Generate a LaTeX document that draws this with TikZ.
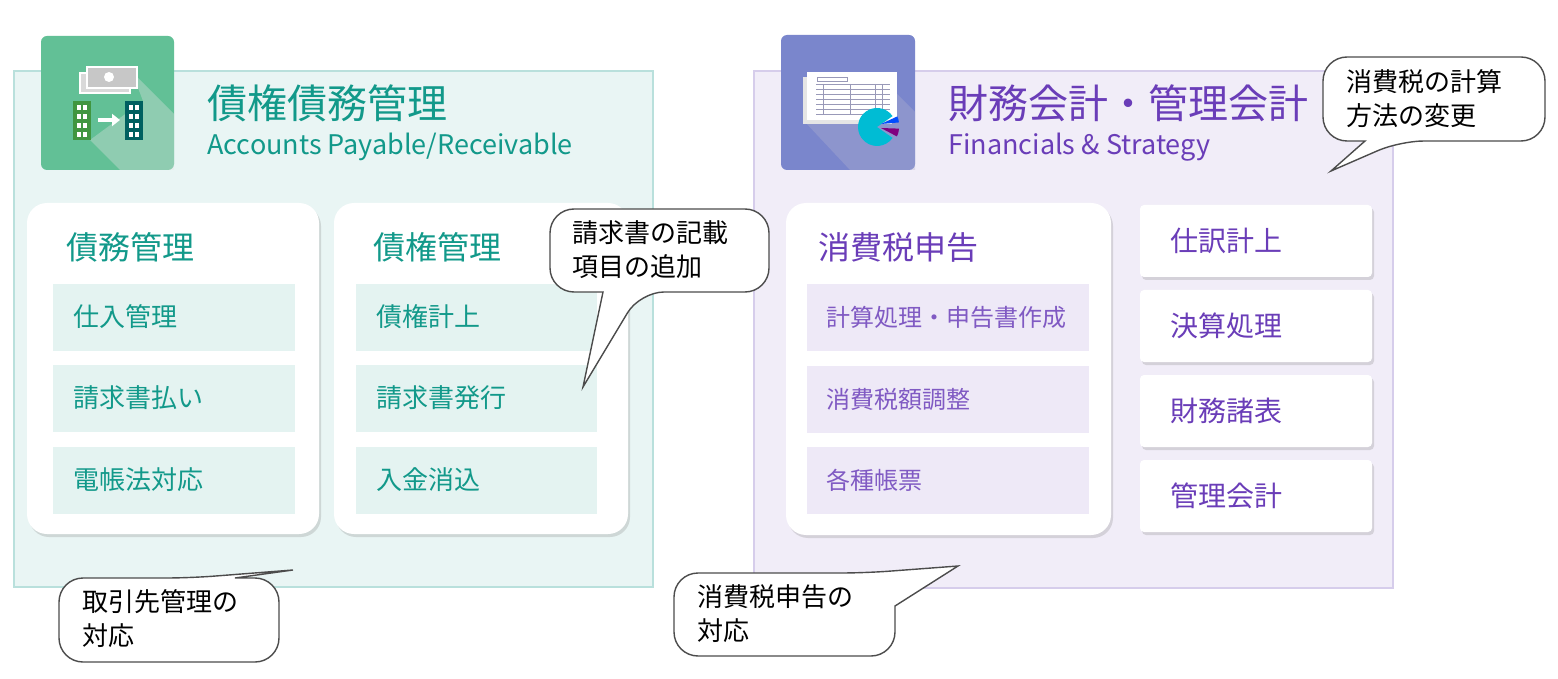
\documentclass[tikz,border=0pt]{standalone}
\usepackage{fontspec}
\setmainfont{Noto Sans CJK JP}
\usetikzlibrary{shadows,arrows.meta}
\definecolor{tealbg}{HTML}{E9F5F4}
\definecolor{tealbd}{HTML}{B9E0DC}
\definecolor{tealtx}{HTML}{12998A}
\definecolor{tealit}{HTML}{E4F3F1}
\definecolor{purbg}{HTML}{F1EDF8}
\definecolor{purbd}{HTML}{D6CDEB}
\definecolor{purtx}{HTML}{6A3DB8}
\definecolor{purit}{HTML}{EEE9F7}
\definecolor{gicon}{HTML}{62C096}
\definecolor{picon}{HTML}{7A86CC}
\definecolor{piec}{HTML}{00BCD4}
\tikzset{
 px/.style={x=0.5pt,y=-0.5pt},
 card/.style={fill=white,rounded corners=10pt,drop shadow={opacity=0.25,shadow xshift=1pt,shadow yshift=-1.5pt}},
 sbox/.style={fill=white,rounded corners=2pt,drop shadow={opacity=0.25,shadow xshift=1pt,shadow yshift=-1.5pt}},
 txt/.style={anchor=west,inner sep=0pt},
 call/.style={draw=black!70,fill=white,line width=0.7pt},
}
\begin{document}
\begin{tikzpicture}[px]
\useasboundingbox (0,0) rectangle (1558,679);
\fill[white] (0,0) rectangle (1558,679);
% left panel
\draw[fill=tealbg,draw=tealbd,line width=0.8pt] (14,71) rectangle (653,587);
\fill[gicon,rounded corners=3pt] (41,36) rectangle (174,170);
\fill[black!10,opacity=0.35] (132,72) -- (174,114) -- (174,170) -- (120,170) -- (90,140) -- (143,101) -- cycle;
\draw[fill=black!15,draw=white,line width=0.6pt] (80,73) rectangle (130,93);
\draw[fill=black!22,draw=white,line width=0.6pt] (87,67) rectangle (137,88);
\fill[white] (109,77) circle (5);
\fill[green!45!black!75] (73,101) rectangle (91,140);
\fill[teal!75!black] (125,101) rectangle (143,140);
\foreach \bx in {73,125}{\foreach \r in {0,1,2,3}{\fill[white] (\bx+4,105+\r*9) rectangle ++(4,5);\fill[white] (\bx+10,105+\r*9) rectangle ++(4,5);}}
\draw[white,line width=2pt,-{Triangle[length=4pt,width=6pt]}] (98,120) -- (120,120);
\node[txt,font=\fontsize{20pt}{22pt}\selectfont,text=tealtx] (t1) at (207,103) {債権債務管理};
\node[txt,font=\fontsize{13.5pt}{15pt}\selectfont,text=tealtx] (s1) at (207,147) {Accounts Payable/Receivable};
\fill[card] (27,203) rectangle (319,534);
\fill[card] (334,203) rectangle (628,534);
\node[txt,font=\fontsize{16pt}{18pt}\selectfont,text=tealtx] (h1) at (66,247) {債務管理};
\node[txt,font=\fontsize{16pt}{18pt}\selectfont,text=tealtx] (h2) at (373,247) {債権管理};
\foreach \y/\a/\b/\n in {284/仕入管理/債権計上/1,365/請求書払い/請求書発行/2,447/電帳法対応/入金消込/3}{
 \fill[tealit] (53,\y) rectangle (295,\y+67);
 \fill[tealit] (356,\y) rectangle (597,\y+67);
 \node[txt,font=\fontsize{13pt}{15pt}\selectfont,text=tealtx] (la\n) at (73,\y+33) {\a};
 \node[txt,font=\fontsize{13pt}{15pt}\selectfont,text=tealtx] (lb\n) at (376,\y+33) {\b};
}
% right panel
\draw[fill=purbg,draw=purbd,line width=0.8pt] (754,71) rectangle (1393,588);
\fill[picon,rounded corners=3pt] (781,35) rectangle (915,170);
\fill[blue!40!black!30,opacity=0.35] (805,122) -- (850,170) -- (915,170) -- (915,112) -- (897,94) -- cycle;
\fill[black!10] (803,77) rectangle (892,124);
\fill[white] (807,72) rectangle (897,120);
\draw[blue!30!black!40,line width=0.4pt] (817,77) rectangle (847,81);
\foreach \yy in {84,89,94,99,104,109,114}{\draw[blue!30!black!40,line width=0.4pt] (816,\yy) -- (890,\yy);}
\foreach \xx in {823,850,875,882}{\draw[blue!30!black!40,line width=0.4pt] (\xx,84) -- (\xx,114);}
\fill[piec] (877,127) -- ++(35:9.5pt) arc[start angle=35,end angle=325,radius=9.5pt] -- cycle;
\fill[blue!70!cyan] (881,124) -- ++(25:9pt) arc[start angle=25,end angle=5,radius=9pt] -- cycle;
\fill[violet] (881,128) -- ++(-2:9pt) arc[start angle=-2,end angle=-28,radius=9pt] -- cycle;
\node[txt,font=\fontsize{20pt}{22pt}\selectfont,text=purtx] (t2) at (948,103) {財務会計・管理会計};
\node[txt,font=\fontsize{13.5pt}{15pt}\selectfont,text=purtx] (s2) at (948,147) {Financials \& Strategy};
\fill[card] (786,203) rectangle (1111,535);
\node[txt,font=\fontsize{16pt}{18pt}\selectfont,text=purtx] (h3) at (818,247) {消費税申告};
\foreach \y/\a/\n in {284/計算処理・申告書作成/1,366/消費税額調整/2,447/各種帳票/3}{
 \fill[purit] (807,\y) rectangle (1089,\y+67);
 \node[txt,font=\fontsize{12pt}{14pt}\selectfont,text=purtx!85] (lc\n) at (826,\y+33) {\a};
}
\foreach \y/\a/\n in {205/仕訳計上/1,290/決算処理/2,375/財務諸表/3,460/管理会計/4}{
 \fill[sbox] (1140,\y) rectangle (1372,\y+72);
 \node[txt,font=\fontsize{14pt}{16pt}\selectfont,text=purtx] (r\n) at (1170,\y+36) {\a};
}
% callouts
\draw[call] [rounded corners=12pt] (550,209) -- (769,209) -- (769,292) -- (640,292) [sharp corners] -- (583,387) -- (603,292) [rounded corners=12pt] -- (550,292) -- cycle;
\node[txt,anchor=north west,font=\fontsize{13pt}{17pt}\selectfont,align=left] (c1) at (572,220) {請求書の記載\\項目の追加};
\draw[call] [rounded corners=12pt] (59,578) -- (190,578) [sharp corners] -- (293,570) -- (235,578) [rounded corners=12pt] -- (279,578) -- (279,662) -- (59,662) -- cycle;
\node[txt,anchor=north west,font=\fontsize{13pt}{17pt}\selectfont,align=left] (c2) at (82,589) {取引先管理の\\対応};
\draw[call] [rounded corners=12pt] (1323,57) -- (1545,57) -- (1545,141) -- (1400,141) [sharp corners] -- (1331,171) -- (1365,141) [rounded corners=12pt] -- (1323,141) -- cycle;
\node[txt,anchor=north west,font=\fontsize{13pt}{17pt}\selectfont,align=left] (c3) at (1346,69) {消費税の計算\\方法の変更};
\draw[call] [rounded corners=12pt] (674,573) -- (865,573) [sharp corners] -- (958,566) -- (895,606) [rounded corners=12pt] -- (895,656) -- (674,656) -- cycle;
\node[txt,anchor=north west,font=\fontsize{13pt}{17pt}\selectfont,align=left] (c4) at (697,584) {消費税申告の\\対応};
\end{tikzpicture}
\end{document}
